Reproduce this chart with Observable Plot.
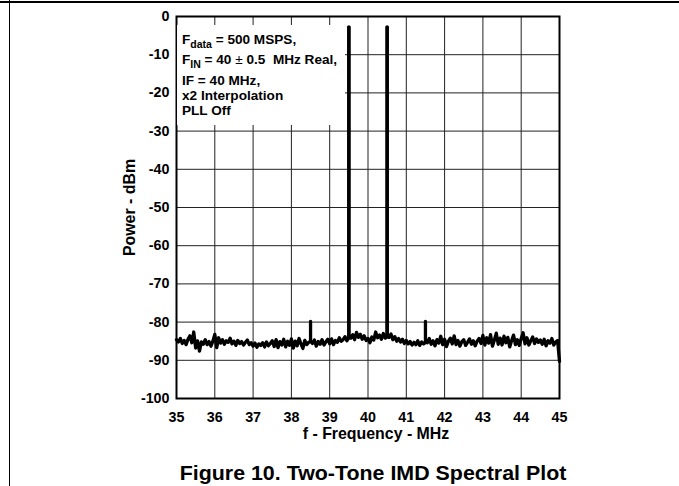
<!DOCTYPE html>
<html>
<head>
<meta charset="utf-8">
<script src="https://cdn.jsdelivr.net/npm/d3@7"></script>
<script src="https://cdn.jsdelivr.net/npm/@observablehq/plot@0.6"></script>
<style>
  html, body { margin: 0; padding: 0; background: #fff; }
  #page { position: relative; width: 679px; height: 486px; overflow: hidden; font-family: "Liberation Sans", Arial, sans-serif; font-weight: bold; color: #000; }
  #topline { position: absolute; left: 0; top: 1px; width: 679px; height: 1.5px; background: #000; }
  #leftline { position: absolute; left: 8.8px; top: 0; width: 1.4px; height: 485.5px; background: #000; }
  #chart { position: absolute; left: 0; top: 0; }
  #legend { position: absolute; left: 177px; top: 25px; width: 168px; height: 100px; background: #fff; }
  #legend .ln { position: absolute; left: 5px; font-size: 13.6px; line-height: 1; white-space: nowrap; }
  #legend sub { font-size: 10.5px; vertical-align: -4px; line-height: 0; }
  #legend .pm { font-weight: normal; }
  #title { position: absolute; left: 373px; top: 464px; font-size: 19.5px; line-height: 1; white-space: nowrap; transform: translateX(-50%) scaleX(1.097); transform-origin: 50% 50%; }
</style>
</head>
<body>
<div id="page">
  <div id="topline"></div>
  <div id="leftline"></div>
  <div id="chart"></div>
  <div id="legend">
    <div class="ln" style="top:8px">F<sub>data</sub> = 500 MSPS,</div>
    <div class="ln" style="top:28px">F<sub>IN</sub> = 40 <span class="pm">±</span> 0.5 &nbsp;MHz Real,</div>
    <div class="ln" style="top:49px">IF = 40 MHz,</div>
    <div class="ln" style="top:64px">x2 Interpolation</div>
    <div class="ln" style="top:79px">PLL Off</div>
  </div>
  <div id="title">Figure 10. Two-Tone IMD Spectral Plot</div>
</div>
<script>
// ---- data ----
const freqStart = 35;      // MHz, first noise sample
const freqStep = 0.05;     // MHz between noise samples
const noiseDbm = [
  -84.6, -85.2, -84.3, -85.6, -84.8, -85.9, -84.5, -83.6, -85.4, -82.6,
  -86.8, -84.9, -87.6, -85.2, -85.8, -84.6, -85.9, -85.1, -86.3, -85.0,
  -83.2, -86.7, -84.1, -85.5, -84.6, -85.8, -84.9, -85.3, -84.2, -85.7,
  -85.0, -86.1, -84.8, -85.6, -85.1, -86.0, -85.3, -84.7, -85.9, -85.4,
  -86.3, -85.5, -86.6, -85.7, -86.1, -85.4, -86.5, -85.2, -86.2, -85.6,
  -84.9, -86.4, -84.6, -86.7, -85.1, -86.0, -84.5, -86.5, -85.0, -86.1,
  -84.4, -86.8, -85.0, -86.2, -84.3, -85.7, -86.9, -84.8, -85.9, -85.3,
  -85.0, -85.6, -84.7, -86.3, -85.1, -85.8, -84.6, -86.0, -85.2, -84.5,
  -85.7, -84.4, -85.9, -84.8, -85.3, -84.1, -85.0, -84.6, -83.8, -84.9,
  -84.0, -84.2, -83.3, -84.6, -82.7, -84.0, -83.2, -84.5, -83.6, -84.8,
  -84.3, -85.4, -83.9, -84.7, -82.6, -84.1, -83.4, -84.5, -83.0, -84.2,
  -83.8, -84.0, -83.1, -84.6, -83.8, -85.0, -84.3, -85.2, -84.5, -85.6,
  -84.8, -85.7, -85.1, -86.0, -85.3, -85.9, -84.9, -86.1, -85.2, -85.7,
  -85.3, -85.4, -84.3, -85.8, -84.9, -86.2, -84.6, -85.5, -83.7, -85.9,
  -84.5, -86.4, -85.0, -84.2, -85.7, -83.6, -85.9, -84.8, -86.3, -85.1,
  -84.6, -86.1, -85.3, -84.4, -85.8, -84.9, -86.2, -85.0, -84.3, -85.6,
  -83.5, -86.0, -84.1, -85.5, -83.3, -86.3, -84.7, -82.9, -85.8, -84.2,
  -86.0, -83.7, -85.4, -84.0, -86.5, -84.8, -83.4, -85.9, -84.6, -86.1,
  -84.3, -82.8, -85.7, -84.1, -86.0, -84.9, -83.9, -85.6, -84.4, -85.3,
  -84.7, -85.8, -84.5, -86.2, -84.9, -85.5, -84.3, -86.0, -85.2, -84.8,
  -90.3
];
const spikeFreqs = [38.5, 39.5, 40.5, 41.5];   // MHz: IMD3, tone 1, tone 2, IMD3
const spikeDbm   = [-79.8, -2.7, -2.7, -79.8];
const xTicks = [35, 36, 37, 38, 39, 40, 41, 42, 43, 44, 45];
const yTicks = [0, -10, -20, -30, -40, -50, -60, -70, -80, -90, -100];

// ---- build the trace: noise floor with the spikes as vertical excursions ----
const trace = [];
noiseDbm.forEach((p, i) => {
  const f = +(freqStart + i * freqStep).toFixed(4);
  const k = spikeFreqs.findIndex(s => Math.abs(s - f) < 1e-6);
  trace.push({f, p});
  if (k >= 0) {
    trace.push({f, p: spikeDbm[k]});
    trace.push({f, p});
  }
});
const tones = spikeFreqs.map((f, k) => ({f, top: spikeDbm[k], base: noiseDbm[Math.round((f - freqStart) / freqStep)]}))
  .filter(d => d.top > -50);

const chart = Plot.plot({
  width: 679,
  height: 445,
  marginLeft: 176,
  marginRight: 120,
  marginTop: 16,
  marginBottom: 47,
  style: {fontFamily: '"Liberation Sans", Arial, sans-serif', fontWeight: "bold", fontSize: "14px", color: "#000", background: "transparent", overflow: "visible"},
  x: {domain: [35, 45], ticks: xTicks, tickSize: 0, tickPadding: 13, tickFormat: d => String(d),
      label: "f - Frequency - MHz", labelAnchor: "center", labelOffset: 40, labelArrow: "none"},
  y: {domain: [-100, 0], ticks: yTicks, tickSize: 0, tickPadding: 7, tickFormat: d => String(d),
      label: "Power - dBm", labelAnchor: "center", labelOffset: 53, labelArrow: "none"},
  marks: [
    Plot.ruleX(xTicks, {stroke: "#222", strokeWidth: 1}),
    Plot.ruleY(yTicks, {stroke: "#222", strokeWidth: 1}),
    Plot.line(trace, {x: "f", y: "p", stroke: "#000", strokeWidth: 3.3, strokeLinejoin: "round"}),
    Plot.ruleX(tones, {x: "f", y1: "base", y2: "top", stroke: "#000", strokeWidth: 3.4}),
    Plot.frame({stroke: "#000", strokeWidth: 2})
  ]
});
document.getElementById("chart").appendChild(chart);
// font sizes: tick labels vs axis labels
chart.querySelectorAll("text").forEach(t => { t.style.fontSize = "14.3px"; t.style.fontWeight = "bold"; });
function sizeLabel(sel, size, dx) {
  const g = chart.querySelector(sel);
  if (!g) return;
  const texts = g.tagName === "text" ? [g] : Array.from(g.querySelectorAll("text"));
  texts.forEach(t => { t.style.fontSize = size; if (dx) t.setAttribute("dx", dx); });
}
sizeLabel('[aria-label="x-axis label"]', "15.9px", 8);
sizeLabel('[aria-label="y-axis label"]', "15.9px", 0);
</script>
</body>
</html>
